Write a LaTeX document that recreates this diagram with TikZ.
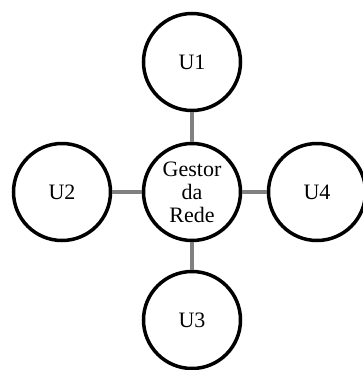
\documentclass[tikz,border=0pt]{standalone}
\usepackage{fontspec}
\setmainfont{Liberation Serif}
\begin{document}
\begin{tikzpicture}[x=1pt,y=-1pt,
  unode/.style={circle,draw=black,line width=3.5pt,minimum size=97pt,inner sep=0pt,font=\fontsize{22}{23}\selectfont,align=center,fill=white},
  link/.style={draw=black!50,line width=3.2pt}]
\useasboundingbox (0,0) rectangle (362,370);
\node[unode] (g) at (192,192) {Gestor\\da\\Rede};
\node[unode] (u1) at (192,62) {U1};
\node[unode] (u2) at (62,192) {U2};
\node[unode] (u4) at (317,192) {U4};
\node[unode] (u3) at (192,320) {U3};
\draw[link] (g) -- (u1);
\draw[link] (g) -- (u2);
\draw[link] (g) -- (u4);
\draw[link] (g) -- (u3);
\end{tikzpicture}
\end{document}
